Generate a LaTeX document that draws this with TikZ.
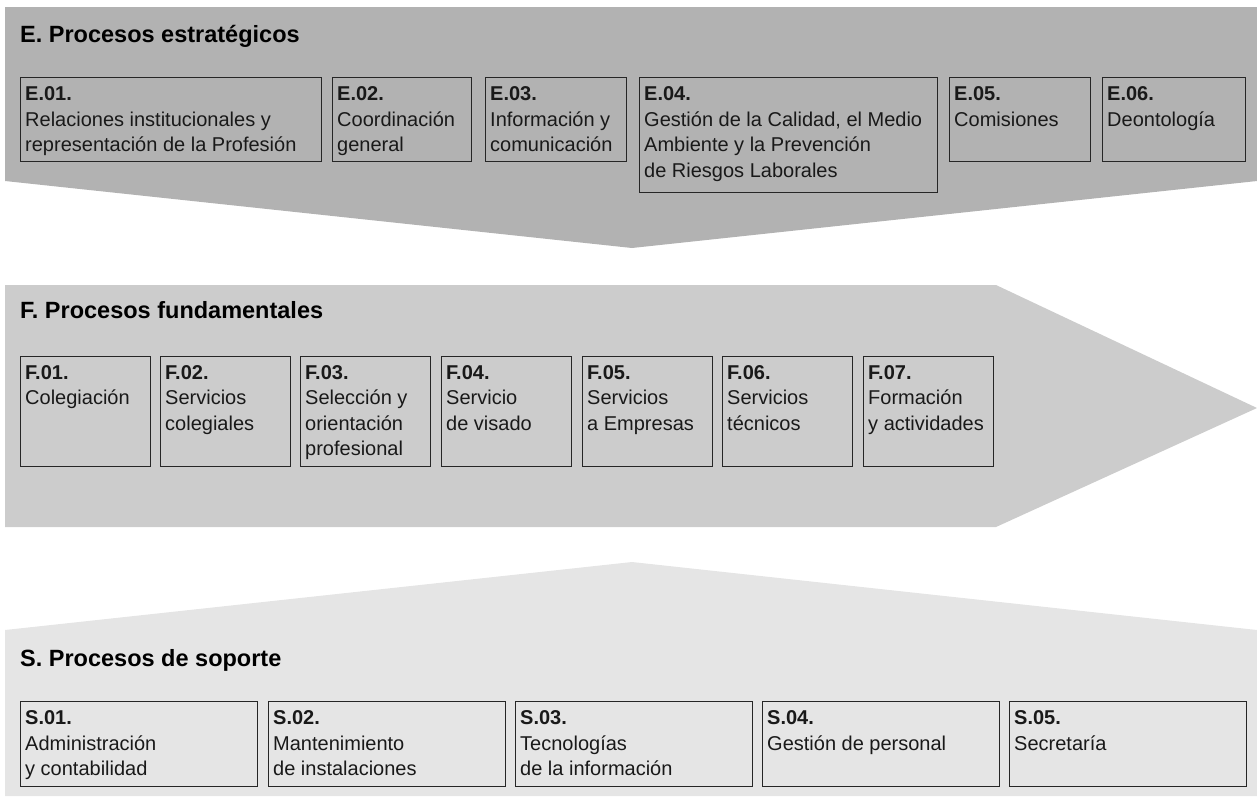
\documentclass[tikz,border=0pt]{standalone}
\usepackage{fontspec}
\setmainfont{Liberation Sans}
\usetikzlibrary{positioning}

\begin{document}
\begin{tikzpicture}[
      x=1pt, y=-1pt,
      strategic/.style={fill=black!30, draw=none},
      fundamental/.style={fill=black!20, draw=none},
      support/.style={fill=black!10, draw=none},
      heading/.style={
         anchor=base west,
         inner sep=0pt,
         font=\bfseries\fontsize{23.5}{28}\selectfont
      },
      procbox/.style={
         rectangle,
         anchor=north west,
         inner sep=0pt,
         line width=1pt,
         draw=black!85
      },
      proctext/.style={
         inner sep=0pt,
         align=left,
         text=black!90,
         font=\fontsize{20}{25.5}\selectfont
      },
      ebox/.style={procbox, minimum height=84pt},
      fbox/.style={procbox, minimum width=130pt, minimum height=110pt},
      sbox/.style={procbox, minimum width=237pt, minimum height=85pt}
    ]
    \useasboundingbox (0,0) rectangle (1257,796);

    % bands
    \path[strategic] (5,7) -- (1257,7) -- (1257,181) -- (632,248) -- (5,181) -- cycle;
    \path[fundamental] (5,285) -- (996,285) -- (1257,408) -- (996,527) -- (5,527) -- cycle;
    \path[support] (5,630) -- (632,562) -- (1257,630) -- (1257,796) -- (5,796) -- cycle;

    % headings
    \node (etitle) [heading] at (20,42) {E. Procesos estratégicos};
    \node (ftitle) [heading] at (20,318) {F. Procesos fundamentales};
    \node (stitle) [heading] at (20,666) {S. Procesos de soporte};

    % strategic processes
    \node (e01) [ebox, minimum width=301pt] at (20,77) {};
    \node (e02) [ebox, minimum width=139pt] at (332,77) {};
    \node (e03) [ebox, minimum width=141pt] at (485,77) {};
    \node (e04) [procbox, minimum width=298pt, minimum height=115pt] at (639,77) {};
    \node (e05) [ebox, minimum width=141pt] at (949,77) {};
    \node (e06) [ebox, minimum width=143pt] at (1102,77) {};
    \node (e01t) [proctext, below right=9.5pt and 5pt of e01.north west] {\textbf{E.01.}\\Relaciones institucionales y\\representación de la Profesión};
    \node (e02t) [proctext, below right=9.5pt and 5pt of e02.north west] {\textbf{E.02.}\\Coordinación\\general};
    \node (e03t) [proctext, below right=9.5pt and 5pt of e03.north west] {\textbf{E.03.}\\Información y\\comunicación};
    \node (e04t) [proctext, below right=9.5pt and 5pt of e04.north west] {\textbf{E.04.}\\Gestión de la Calidad, el Medio\\Ambiente y la Prevención\\de Riesgos Laborales};
    \node (e05t) [proctext, below right=9.5pt and 5pt of e05.north west] {\textbf{E.05.}\\Comisiones};
    \node (e06t) [proctext, below right=9.5pt and 5pt of e06.north west] {\textbf{E.06.}\\Deontología};

    % fundamental processes
    \node (f01) [fbox] at (20,356) {};
    \node (f02) [fbox] at (160,356) {};
    \node (f03) [fbox] at (300,356) {};
    \node (f04) [fbox] at (441,356) {};
    \node (f05) [fbox] at (582,356) {};
    \node (f06) [fbox] at (722,356) {};
    \node (f07) [fbox] at (863,356) {};
    \node (f01t) [proctext, below right=9pt and 5pt of f01.north west] {\textbf{F.01.}\\Colegiación};
    \node (f02t) [proctext, below right=9pt and 5pt of f02.north west] {\textbf{F.02.}\\Servicios\\colegiales};
    \node (f03t) [proctext, below right=9pt and 5pt of f03.north west] {\textbf{F.03.}\\Selección y\\orientación\\profesional};
    \node (f04t) [proctext, below right=9pt and 5pt of f04.north west] {\textbf{F.04.}\\Servicio\\de visado};
    \node (f05t) [proctext, below right=9pt and 5pt of f05.north west] {\textbf{F.05.}\\Servicios\\a Empresas};
    \node (f06t) [proctext, below right=9pt and 5pt of f06.north west] {\textbf{F.06.}\\Servicios\\técnicos};
    \node (f07t) [proctext, below right=9pt and 5pt of f07.north west] {\textbf{F.07.}\\Formación\\y actividades};

    % support processes
    \node (s01) [sbox] at (20,701) {};
    \node (s02) [sbox] at (268,701) {};
    \node (s03) [sbox] at (515,701) {};
    \node (s04) [sbox] at (762,701) {};
    \node (s05) [sbox] at (1009,701) {};
    \node (s01t) [proctext, below right=9.5pt and 5pt of s01.north west] {\textbf{S.01.}\\Administración\\y contabilidad};
    \node (s02t) [proctext, below right=9.5pt and 5pt of s02.north west] {\textbf{S.02.}\\Mantenimiento\\de instalaciones};
    \node (s03t) [proctext, below right=9.5pt and 5pt of s03.north west] {\textbf{S.03.}\\Tecnologías\\de la información};
    \node (s04t) [proctext, below right=9.5pt and 5pt of s04.north west] {\textbf{S.04.}\\Gestión de personal};
    \node (s05t) [proctext, below right=9.5pt and 5pt of s05.north west] {\textbf{S.05.}\\Secretaría};
\end{tikzpicture}
\end{document}
